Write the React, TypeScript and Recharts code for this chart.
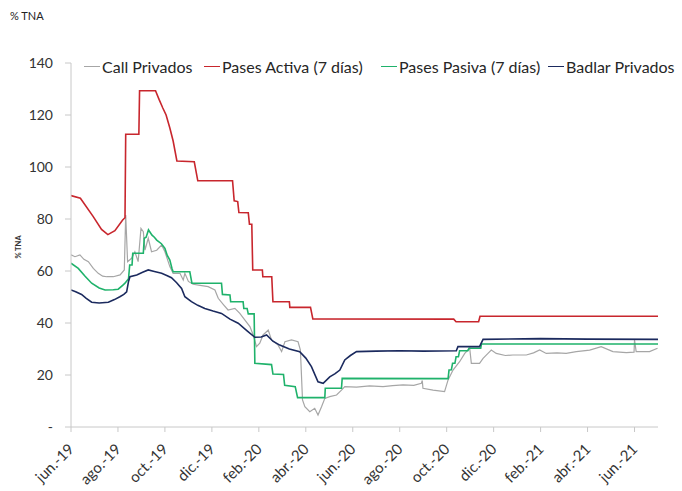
import { LineChart, Line, XAxis, YAxis } from 'recharts';

// x = months since 1-jun-2019, y = % TNA
const callPrivados: [number, number][] = [
  [0, 66.2], [0.17, 65.5], [0.38, 66.2], [0.55, 64.5], [0.74, 63.6], [0.95, 61], [1.16, 59.1], [1.35, 58],
  [1.52, 57.8], [1.8, 57.8], [2.09, 58.5], [2.27, 60.4], [2.33, 81.5], [2.41, 63.6], [2.58, 64.9], [2.72, 67.4],
  [2.86, 63.6], [2.98, 76.4], [3.08, 75.1], [3.15, 68], [3.29, 72.6], [3.43, 67.4], [3.65, 68], [3.86, 70],
  [4.0, 67.4], [4.21, 61.7], [4.35, 59.1], [4.64, 59.1], [4.78, 56.5], [4.85, 59.1], [5.0, 56], [5.2, 54.9],
  [5.5, 54.5], [5.84, 54], [6.13, 52.7], [6.27, 49.5], [6.5, 47], [6.69, 45], [6.98, 45.6], [7.19, 43.7],
  [7.4, 41.2], [7.62, 38.6], [7.76, 35.4], [7.9, 30.9], [8.04, 32.2], [8.18, 35.4], [8.4, 37.3], [8.54, 33.5],
  [8.82, 31.5], [8.97, 29], [9.11, 32.8], [9.39, 33.5], [9.67, 32.8], [9.77, 29.6], [9.86, 10.4], [9.96, 7.8],
  [10.17, 5.9], [10.38, 7.2], [10.52, 4.6], [10.67, 7.8], [10.81, 11], [11.02, 11.7], [11.31, 12.3], [11.52, 14.2],
  [11.66, 15.5], [12.16, 15.3], [12.72, 15.8], [13.29, 15.5], [13.7, 15.9], [14.14, 16.2], [14.6, 16], [14.92, 16.8],
  [14.96, 17.9], [14.99, 14.9], [15.42, 14.2], [15.91, 13.6], [16.06, 18.1], [16.27, 21.9], [16.55, 25.1], [16.77, 28.3],
  [16.98, 30.3], [17.05, 24.5], [17.4, 24.5], [17.55, 26.4], [17.76, 28.3], [17.9, 29.6], [18.11, 28.3], [18.5, 27.5],
  [18.82, 27.7], [19.39, 27.7], [19.7, 28.5], [19.96, 29.6], [20.24, 28.3], [20.7, 28.5], [21.09, 28.3], [21.52, 29],
  [22.09, 29.6], [22.58, 30.9], [23.08, 29], [23.65, 28.6], [23.98, 28.8], [24.0, 33.5], [24.07, 29], [24.64, 29],
  [24.98, 30.3],
];

const pasesActiva: [number, number][] = [
  [0, 89], [0.4, 88], [0.94, 81], [1.3, 76], [1.57, 74], [1.87, 75.5], [2.2, 79.6], [2.3, 80.5],
  [2.33, 112.6], [2.89, 112.6], [2.92, 129.3], [3.6, 129.3], [3.75, 126], [3.91, 122.7], [4.05, 120], [4.21, 115],
  [4.35, 110], [4.51, 102.3], [5.25, 102], [5.4, 94.7], [6.88, 94.7], [6.95, 87], [7.1, 86.7], [7.15, 82.5],
  [7.55, 82.4], [7.6, 78], [7.7, 78], [7.74, 60.4], [8.15, 60.4], [8.17, 57.8], [8.55, 57.8], [8.6, 48.2],
  [9.3, 48.2], [9.32, 46], [10.2, 46], [10.3, 41.6], [16.3, 41.5], [16.4, 40.5], [17.36, 40.5], [17.42, 42.6],
  [25, 42.6],
];

const pasesPasiva: [number, number][] = [
  [0, 63], [0.31, 61], [0.6, 58], [0.88, 55.3], [1.2, 53.5], [1.45, 52.7], [1.8, 52.8], [2.01, 53],
  [2.2, 54.5], [2.3, 55.3], [2.45, 57], [2.5, 62.3], [2.6, 62.3], [2.63, 66.8], [3.08, 66.8], [3.12, 72.6],
  [3.2, 73], [3.3, 75.8], [3.36, 75], [3.45, 73.8], [3.55, 73], [3.65, 71.9], [3.85, 70.5], [4.0, 68.7],
  [4.1, 66], [4.21, 64.2], [4.3, 61], [4.35, 59.7], [5.06, 59.7], [5.15, 55.3], [6.41, 55.3], [6.45, 51],
  [6.77, 50.8], [6.8, 48.2], [7.33, 48.2], [7.36, 45.6], [7.5, 45.6], [7.55, 43.5], [7.8, 43.5], [7.83, 24.5],
  [8.54, 24], [8.6, 20.4], [9.05, 20.2], [9.1, 16], [9.55, 15.5], [9.65, 11.3], [10.81, 11.3], [10.83, 14.9],
  [11.52, 14.9], [11.55, 18.7], [16.06, 18.6], [16.1, 21.9], [16.2, 22], [16.25, 24.5], [16.35, 24.5], [16.4, 27],
  [16.5, 27], [16.55, 29.3], [16.9, 29.3], [16.95, 30.3], [17.45, 30.3], [17.48, 31.9], [25, 31.9],
];

const badlarPrivados: [number, number][] = [
  [0, 52.7], [0.2, 52], [0.45, 51], [0.65, 49.5], [0.88, 48], [1.2, 47.7], [1.59, 48], [1.85, 49],
  [2.08, 50.1], [2.25, 51], [2.37, 52], [2.45, 56], [2.51, 57.8], [2.8, 58.5], [3.05, 59.5], [3.29, 60.4],
  [3.55, 59.8], [3.86, 59.1], [4.1, 58.2], [4.28, 57.4], [4.5, 55.5], [4.71, 53.3], [4.85, 50.1], [5.13, 48.2],
  [5.4, 46.8], [5.7, 45.6], [6.05, 44.6], [6.41, 43.7], [6.77, 41.5], [7.12, 39.9], [7.5, 37], [7.83, 34.5],
  [8.1, 34.6], [8.33, 35.4], [8.6, 33], [8.89, 31.5], [9.3, 30], [9.74, 29], [10.0, 26.5], [10.24, 23.2],
  [10.52, 17.4], [10.74, 16.8], [11.02, 19.3], [11.25, 20.5], [11.45, 21.9], [11.66, 25.8], [11.9, 27.5], [12.16, 29],
  [13, 29.2], [14, 29.3], [15, 29.2], [16.41, 29.3], [16.48, 30.9], [17.4, 30.9], [17.55, 33.7], [20, 34],
  [22, 33.8], [25, 33.7],
];

const monthTicks = [0, 2, 4, 6, 8, 10, 12, 14, 16, 18, 20, 22, 24];
const monthLabels = [
  'jun.-19', 'ago.-19', 'oct.-19', 'dic.-19', 'feb.-20', 'abr.-20', 'jun.-20',
  'ago.-20', 'oct.-20', 'dic.-20', 'feb.-21', 'abr.-21', 'jun.-21',
];
const yTicks = [0, 20, 40, 60, 80, 100, 120, 140];

const series = [
  { name: 'Call Privados', data: callPrivados, color: '#a6a6a6', width: 1.2, dashX: 84 },
  { name: 'Pases Activa (7 días)', data: pasesActiva, color: '#c8262d', width: 1.6, dashX: 204 },
  { name: 'Pases Pasiva (7 días)', data: pasesPasiva, color: '#1fb26b', width: 1.6, dashX: 381 },
  { name: 'Badlar Privados', data: badlarPrivados, color: '#1b2a5e', width: 1.6, dashX: 548 },
];

const FONT = 'Lato, "Open Sans", sans-serif';
const TEXT = '#333';

function toRows(points: [number, number][]) {
  return points.map(([t, v]) => ({ t, v }));
}

function MonthTick({ x, y, payload }: any) {
  const label = monthLabels[monthTicks.indexOf(payload.value)] ?? '';
  const px = x + 4;
  const py = y + 16;
  return (
    <text
      x={px}
      y={py}
      transform={`rotate(-45, ${px}, ${py})`}
      textAnchor="end"
      fontSize={15}
      fontFamily={FONT}
      fill={TEXT}
    >
      {label}
    </text>
  );
}

export default function App() {
  return (
    <div
      style={{
        position: 'absolute',
        left: 0,
        top: 0,
        width: 682,
        height: 491,
        background: '#fff',
        fontFamily: FONT,
        overflow: 'hidden',
      }}
    >
      <div style={{ position: 'absolute', left: 10, top: 9, fontSize: 11, color: '#222' }}>% TNA</div>
      <div
        style={{
          position: 'absolute',
          left: 18,
          top: 247,
          fontSize: 7.5,
          fontWeight: 700,
          color: '#333',
          transform: 'translate(-50%, -50%) rotate(-90deg)',
          whiteSpace: 'nowrap',
        }}
      >
        % TNA
      </div>
      {series.map((s) => (
        <div
          key={s.name}
          style={{
            position: 'absolute',
            left: s.dashX,
            top: 56,
            height: 20,
            display: 'flex',
            alignItems: 'center',
            fontSize: 16,
            color: '#262626',
            whiteSpace: 'nowrap',
          }}
        >
          <span style={{ display: 'inline-block', width: 16, height: 0, borderTop: `1.6px solid ${s.color}`, marginRight: 2 }} />
          {s.name}
        </div>
      ))}
      <LineChart width={682} height={491} margin={{ top: 63, right: 24, bottom: 0, left: 0 }}>
        <XAxis
          type="number"
          dataKey="t"
          domain={[0, 25]}
          ticks={monthTicks}
          interval={0}
          height={64}
          tick={<MonthTick />}
          tickLine={{ stroke: '#c8c8c8' }}
          tickSize={5}
          axisLine={{ stroke: '#c8c8c8' }}
          allowDataOverflow
        />
        <YAxis
          type="number"
          domain={[0, 140]}
          ticks={yTicks}
          width={71}
          tickFormatter={(v: number) => (v === 0 ? '-' : String(v))}
          tick={{ fontSize: 14, fill: TEXT, fontFamily: FONT }}
          tickLine={{ stroke: '#c8c8c8' }}
          tickSize={6}
          tickMargin={12}
          axisLine={{ stroke: '#c8c8c8' }}
        />
        {series.map((s) => (
          <Line
            key={s.name}
            data={toRows(s.data)}
            dataKey="v"
            name={s.name}
            type="linear"
            stroke={s.color}
            strokeWidth={s.width}
            dot={false}
            activeDot={false}
            isAnimationActive={false}
          />
        ))}
      </LineChart>
    </div>
  );
}
